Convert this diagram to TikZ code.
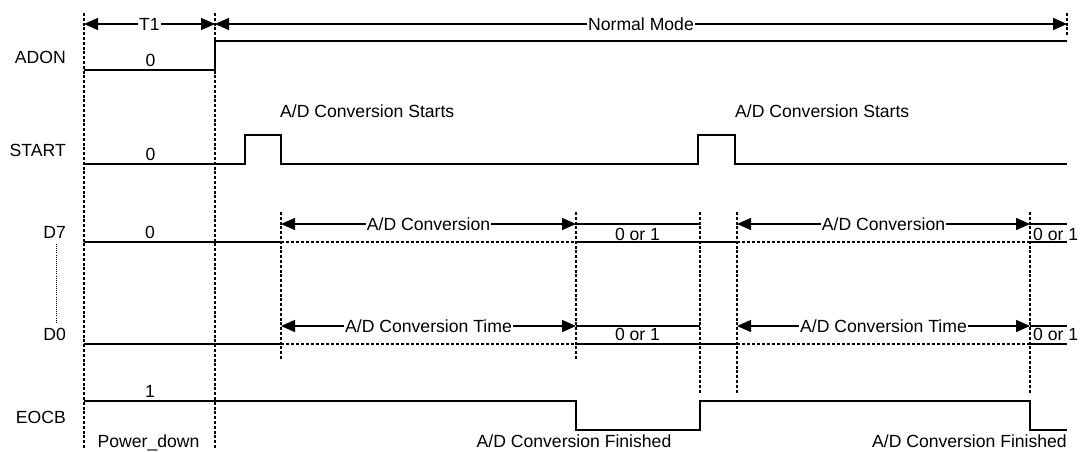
\documentclass[tikz,border=0pt]{standalone}
\usepackage{fontspec}
\setmainfont{Liberation Sans}
\usetikzlibrary{arrows.meta}
\begin{document}
\begin{tikzpicture}[x=1pt,y=-1pt,
  txt/.style={font=\fontsize{17.6}{20}\selectfont, inner sep=1pt, text height=12.6pt, text depth=0pt},
  sig/.style={line width=1.5pt, line join=miter},
  dsig/.style={line width=1.2pt, dash pattern=on 3pt off 2pt},
  vguide/.style={line width=1.2pt, dash pattern=on 3pt off 1.8pt},
  arr/.style={line width=1.4pt, -{Triangle[length=14pt,width=12pt]}},
  dotl/.style={line width=0.9pt, dash pattern=on 0.9pt off 1.2pt}]
\useasboundingbox (0,0) rectangle (1081,452);

% coordinates for arrow ends
\coordinate (aL) at (84,24);
\coordinate (aM) at (215,24);
\coordinate (aR) at (1067,24);
\coordinate (c1L) at (281,224); \coordinate (c1R) at (576,224);
\coordinate (c2L) at (737,224); \coordinate (c2R) at (1030,224);
\coordinate (d1L) at (281,326); \coordinate (d1R) at (576,326);
\coordinate (d2L) at (737,326); \coordinate (d2R) at (1030,326);

% vertical guides
\draw[vguide] (84,13) -- (84,448);
\draw[vguide] (215,13) -- (215,448);
\draw[vguide] (1067,13) -- (1067,35);
\draw[vguide] (281,212) -- (281,359);
\draw[vguide] (576,212) -- (576,359);
\draw[vguide] (700,212) -- (700,393);
\draw[vguide] (737,212) -- (737,393);
\draw[vguide] (1030,212) -- (1030,393);
\draw[dotl] (56,244) -- (56,322);

% top arrows
\node[txt] (t1) at (149.5,24) {T1};
\draw[arr] (t1) -- (aL);
\draw[arr] (t1) -- (aM);
\node[txt] (nm) at (641,24) {Normal Mode};
\draw[arr] (nm) -- (aM);
\draw[arr] (nm) -- (aR);

% signal labels
\node[txt, anchor=east] (lADON) at (67,57) {ADON};
\node[txt, anchor=east] (lSTART) at (67,150) {START};
\node[txt, anchor=east] (lD7) at (67,232) {D7};
\node[txt, anchor=east] (lD0) at (67,334.5) {D0};
\node[txt, anchor=east] (lEOCB) at (67,417) {EOCB};

% ADON
\draw[sig] (84,70) -- (215,70) -- (215,41) -- (1067,41);
\node[txt] (v1) at (150.5,60.5) {0};

% START
\draw[sig] (84,164) -- (245,164) -- (245,135) -- (281,135) -- (281,164) -- (698,164) -- (698,135) -- (735,135) -- (735,164) -- (1067,164);
\node[txt] (v2) at (150.5,154) {0};
\node[txt, anchor=west] (s1) at (279,111) {A/D Conversion Starts};
\node[txt, anchor=west] (s2) at (734,111) {A/D Conversion Starts};

% D7
\draw[sig] (84,242) -- (281,242);
\draw[dsig] (281,242) -- (576,242);
\draw[sig] (576,242) -- (737,242);
\draw[dsig] (737,242) -- (1030,242);
\draw[sig] (1030,242) -- (1067,242);
\draw[sig] (576,224) -- (700,224);
\draw[sig] (1030,224) -- (1067,224);
\node[txt] (v3) at (150,232) {0};
\node[txt] (o1) at (637.5,234) {0 or 1};
\node[txt, anchor=west] (o2) at (1032,234) {0 or 1};
\node[txt] (ac1) at (428.5,224) {A/D Conversion};
\draw[arr] (ac1) -- (c1L);
\draw[arr] (ac1) -- (c1R);
\node[txt] (ac2) at (883.5,224) {A/D Conversion};
\draw[arr] (ac2) -- (c2L);
\draw[arr] (ac2) -- (c2R);

% D0
\draw[sig] (84,344) -- (281,344);
\draw[dsig] (281,344) -- (576,344);
\draw[sig] (576,344) -- (737,344);
\draw[dsig] (737,344) -- (1030,344);
\draw[sig] (1030,344) -- (1067,344);
\draw[sig] (576,326) -- (700,326);
\draw[sig] (1030,326) -- (1067,326);
\node[txt] (o3) at (637.5,334) {0 or 1};
\node[txt, anchor=west] (o4) at (1032,334) {0 or 1};
\node[txt] (at1) at (428.5,326) {A/D Conversion Time};
\draw[arr] (at1) -- (d1L);
\draw[arr] (at1) -- (d1R);
\node[txt] (at2) at (883.5,326) {A/D Conversion Time};
\draw[arr] (at2) -- (d2L);
\draw[arr] (at2) -- (d2R);

% EOCB
\draw[sig] (84,401) -- (576,401) -- (576,430) -- (700,430) -- (700,401) -- (1030,401) -- (1030,430) -- (1067,430);
\node[txt] (v4) at (150,391) {1};
\node[txt] (pd) at (148.5,441) {Power\_down};
\node[txt] (f1) at (574,441.5) {A/D Conversion Finished};
\node[txt, anchor=east] (f2) at (1068,441.5) {A/D Conversion Finished};
\end{tikzpicture}
\end{document}
